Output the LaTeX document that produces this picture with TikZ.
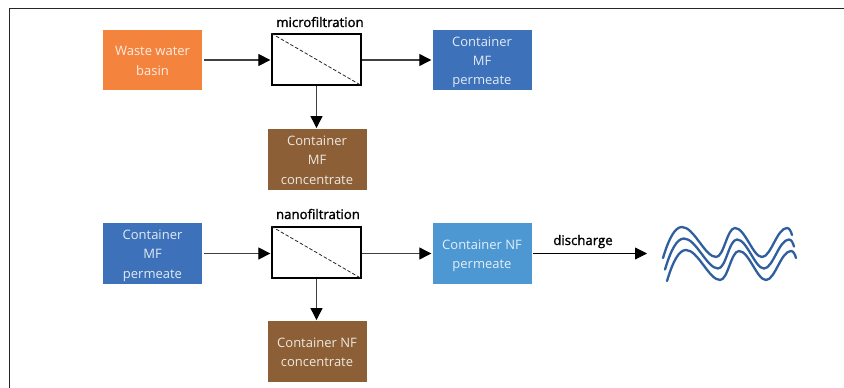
\documentclass[tikz,border=0pt]{standalone}
\usepackage{fontspec}
\setmainfont{Open Sans}
\newfontfamily\capfont[RawFeature={embolden=1.4}]{Open Sans}
\usetikzlibrary{arrows.meta}
\definecolor{orangebox}{HTML}{F4833D}
\definecolor{bluebox}{HTML}{3D72BA}
\definecolor{lightbox}{HTML}{4D97D3}
\definecolor{brownbox}{HTML}{8C5F36}
\definecolor{wavecol}{HTML}{2F5F9E}
\newcommand{\boxtext}[1]{\raisebox{-4.5pt}[0pt][0pt]{\begin{tabular}{@{}c@{}}#1\end{tabular}}}
\tikzset{
  x=1pt,y=-1pt,
  fillbox/.style={draw=none,minimum width=99pt,minimum height=60.5pt,inner sep=0pt,
    text=white,font=\fontsize{13}{19.3}\selectfont,text opacity=.85},
  filterbox/.style={draw=black,line width=1.3pt,fill=white,minimum width=89pt,minimum height=51pt,inner sep=0pt},
  caption/.style={inner sep=0pt,font=\fontsize{13.2}{15}\selectfont\capfont,text=black},
  flow/.style={draw=black!75,line width=1.2pt,shorten >=1pt,-{Triangle[length=12pt,width=12pt,color=black]}},
  memb/.style={draw=black!85,line width=.8pt,dash pattern=on 3.5pt off 2pt},
  wave/.style={draw=wavecol,line width=2.3pt,line cap=round},
}
\newcommand{\wavepath}{
  (663,258) .. controls (669,238) and (675,227) .. (682,227)
  .. controls (694,227) and (705,257) .. (716,257)
  .. controls (724,257) and (727,228) .. (735,228)
  .. controls (745,228) and (753,257) .. (762,257)
  .. controls (771,257) and (777,228) .. (787,228)
  .. controls (789,228) and (791,231) .. (792,235)
}
\begin{document}
\begin{tikzpicture}
\useasboundingbox (0,0) rectangle (844,388);
\fill[white] (0,0) rectangle (844,388);
\coordinate (ftl) at (9.5,388);
\coordinate (ftm) at (9.5,8.3);
\coordinate (ftr) at (844,8.3);
\draw[black!85,line width=.8pt] (ftl) -- (ftm) -- (ftr);

\node[fillbox,fill=orangebox] (waste) at (152.5,60) {\boxtext{Waste water\\basin}};
\node[filterbox] (mf) at (316.5,59.5) {};
\node[caption,anchor=base] (mflabel) at (320,27) {microfiltration};
\node[fillbox,fill=bluebox] (mfperm) at (482,60) {\boxtext{Container\\MF\\permeate}};
\node[fillbox,fill=brownbox] (mfconc) at (317,159.5) {\boxtext{Container\\MF\\concentrate}};

\node[fillbox,fill=bluebox] (mfperm2) at (152.5,253.5) {\boxtext{Container\\MF\\permeate}};
\node[filterbox] (nf) at (316.5,252.5) {};
\node[caption,anchor=base] (nflabel) at (318,219) {nanofiltration};
\node[fillbox,fill=lightbox] (nfperm) at (482,253.5) {\boxtext{Container NF\\permeate}};
\node[fillbox,fill=brownbox] (nfconc) at (317,351.5) {\boxtext{Container NF\\concentrate}};

\draw[memb] (mf.north west) -- (mf.south east);
\draw[memb] (nf.north west) -- (nf.south east);

\draw[flow] ([xshift=1.5pt]waste.east) -- (mf.west |- waste.east);
\draw[flow] (mf.east |- mfperm.west) -- (mfperm.west);
\draw[flow] (mf.south) -- (mf.south |- mfconc.north);
\draw[flow] ([xshift=1.5pt]mfperm2.east) -- (nf.west |- mfperm2.east);
\draw[flow] (nf.east |- nfperm.west) -- (nfperm.west);
\draw[flow] (nf.south) -- (nf.south |- nfconc.north);

\coordinate (dis) at (647,253.5);
\draw[flow,draw=black,line width=.8pt,shorten >=0pt] ([xshift=1.5pt]nfperm.east) -- (dis);
\node[caption,anchor=base] (dislabel) at (583,245) {discharge};

\draw[wave] \wavepath;
\draw[wave,shift={(2,11.5)}] \wavepath;
\draw[wave,shift={(4,23)}] \wavepath;
\end{tikzpicture}
\end{document}
